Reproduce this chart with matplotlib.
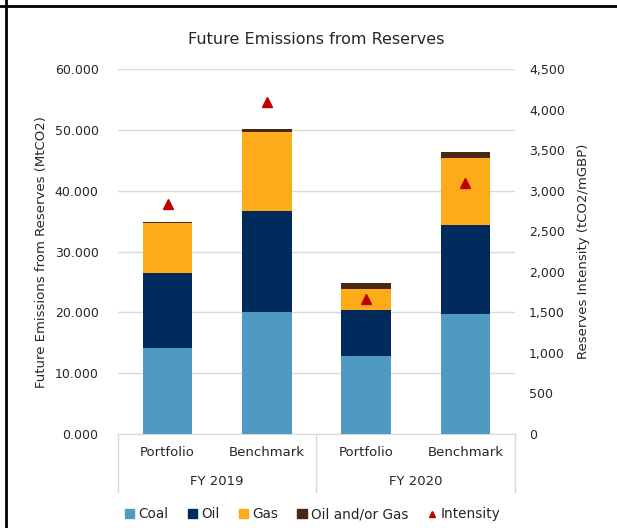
import matplotlib.pyplot as plt
from matplotlib.patches import Patch
from matplotlib.lines import Line2D
from matplotlib import transforms

plt.rcParams['font.family'] = ['DejaVu Sans']

# data
years = ["FY 2019", "FY 2020"]
groups = ["Portfolio", "Benchmark", "Portfolio", "Benchmark"]
coal = [14.1, 20.1, 12.8, 19.7]
oil = [12.4, 16.6, 7.6, 14.6]
gas = [8.2, 13.0, 3.5, 11.1]
oil_or_gas = [0.15, 0.5, 0.9, 0.9]
intensity = [2836, 4097, 1660, 3090]

series = [("Coal", coal, "#4F9AC2"), ("Oil", oil, "#002B5C"),
          ("Gas", gas, "#FDAB19"), ("Oil and/or Gas", oil_or_gas, "#4A2616")]
red = "#C00000"
grid_c = "#D9D9D9"
txt_c = "#262626"

fig = plt.figure(figsize=(6.17, 5.28), dpi=100)
ax = fig.add_axes([0.1912, 0.178, 0.6435, 0.691])
ax2 = ax.twinx()

x = list(range(len(groups)))
bottom = [0.0] * len(groups)
for name, vals, col in series:
    ax.bar(x, vals, bottom=bottom, width=0.5, color=col, zorder=3)
    bottom = [b + v for b, v in zip(bottom, vals)]

ax2.plot(x, intensity, linestyle="none", marker="^", color=red, markersize=6.5, zorder=5)

ax.set_xlim(-0.5, 3.5)
ax.set_ylim(0, 60)
ax.set_yticks(range(0, 61, 10))
ax.set_yticklabels([f"{v:.3f}" for v in range(0, 61, 10)])
ax2.set_ylim(0, 4500)
ax2.set_yticks(range(0, 4501, 500))
ax2.set_yticklabels([f"{v:,}" for v in range(0, 4501, 500)])

ax.yaxis.grid(True, color=grid_c, linewidth=1, zorder=0)
ax.set_axisbelow(True)
for a in (ax, ax2):
    for s in a.spines.values():
        s.set_visible(False)
    a.tick_params(length=0, labelsize=9, colors=txt_c, pad=14)
ax.spines["bottom"].set_visible(True)
ax.spines["bottom"].set_color(grid_c)
ax.set_xticks([])
ax2.tick_params(pad=10)

ax.set_ylabel("Future Emissions from Reserves (MtCO2)", fontsize=9.5, color=txt_c, labelpad=5)
ax2.set_ylabel("Reserves Intensity (tCO2/mGBP)", fontsize=9.5, color=txt_c, labelpad=9)
ax.set_title("Future Emissions from Reserves", fontsize=11.5, color=txt_c, pad=18)

# two-level category axis
tr = transforms.blended_transform_factory(ax.transData, ax.transAxes)
for i, g in enumerate(groups):
    ax.text(i, -0.052, g, transform=tr, ha="center", va="center", fontsize=9.5, color=txt_c)
for j, yr in enumerate(years):
    ax.text(2 * j + 0.5, -0.13, yr, transform=tr, ha="center", va="center", fontsize=9.5, color=txt_c)
for xs in (-0.5, 1.5, 3.5):
    ax.add_line(Line2D([xs, xs], [0, -0.158], transform=tr, color=grid_c, linewidth=1, clip_on=False))

handles = [Patch(color=c, label=n) for n, _, c in series]
handles.append(Line2D([], [], linestyle="none", marker="^", color=red, markersize=5, label="Intensity"))
fig.legend(handles=handles, loc="center", bbox_to_anchor=(0.507, 0.026), ncol=5, frameon=False,
           fontsize=9.8, handlelength=0.7, handleheight=0.7, handletextpad=0.3, columnspacing=1.4,
           labelcolor=txt_c)

# frame lines of the surrounding box
fig.add_artist(Line2D([0, 1], [1 - 6 / 528, 1 - 6 / 528], transform=fig.transFigure, color="black", linewidth=2))
fig.add_artist(Line2D([6 / 617, 6 / 617], [0, 1], transform=fig.transFigure, color="black", linewidth=2))

fig.savefig("out.png", dpi=100)
